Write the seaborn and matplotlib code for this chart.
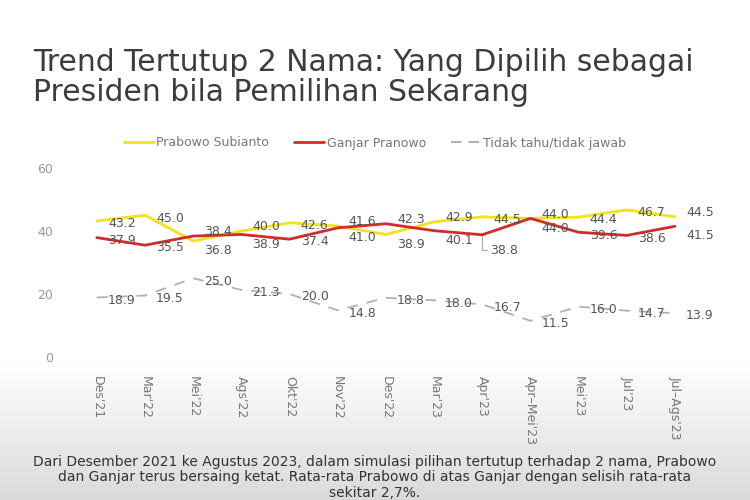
import matplotlib
matplotlib.use("Agg")
import matplotlib.pyplot as plt
import numpy as np
import pandas as pd
import seaborn as sns

periods = ["Des'21", "Mar'22", "Mei'22", "Ags'22", "Okt'22", "Nov'22", "Des'22",
           "Mar'23", "Apr'23", "Apr\u2013Mei'23", "Mei'23", "Jul'23", "Jul\u2013Ags'23"]
prabowo = [43.2, 45.0, 36.8, 40.0, 42.6, 41.6, 38.9, 42.9, 44.5, 44.0, 44.4, 46.7, 44.5]
ganjar = [37.9, 35.5, 38.4, 38.9, 37.4, 41.0, 42.3, 40.1, 38.8, 44.0, 39.6, 38.6, 41.5]
tidak_tahu = [18.9, 19.5, 25.0, 21.3, 20.0, 14.8, 18.8, 18.0, 16.7, 11.5, 16.0, 14.7, 13.9]

series_names = ["Prabowo Subianto", "Ganjar Pranowo", "Tidak tahu/tidak jawab"]
series_colors = ["#f3e11b", "#d32a2a", "#b0b0b0"]

sns.set_theme(style="white")
plt.rcParams["font.family"] = ["DejaVu Sans"]

df = pd.DataFrame({
    "x": list(range(len(periods))) * 3,
    "value": prabowo + ganjar + tidak_tahu,
    "series": [s for s in series_names for _ in periods],
})

fig = plt.figure(figsize=(7.5, 5), dpi=100)

# grey gradient band at the bottom of the slide
bg = fig.add_axes([0, 0, 1, 0.28], zorder=-10)
grad = np.linspace(0, 1, 100).reshape(-1, 1)
cmap = matplotlib.colors.LinearSegmentedColormap.from_list("g", ["#dadada", "#ffffff"])
bg.imshow(grad, aspect="auto", cmap=cmap, extent=[0, 1, 0, 1], origin="lower")
bg.axis("off")

ax = fig.add_axes([0.097, 0.286, 0.835, 0.378])
ax.patch.set_alpha(0)
sns.lineplot(data=df, x="x", y="value", hue="series", style="series",
             palette=dict(zip(series_names, series_colors)),
             dashes={series_names[0]: "", series_names[1]: "", series_names[2]: (6, 5)},
             linewidth=2, ax=ax, legend=False)
ax.lines[2].set_linewidth(1.3)

ax.set_xlim(-0.5, len(periods) - 0.5)
ax.set_ylim(0, 60)
ax.set_yticks([0, 20, 40, 60])
ax.set_xticks(range(len(periods)))
ax.set_xticklabels(periods, rotation=270, fontsize=9, color="#777777")
ax.tick_params(axis="x", pad=14, length=0)
ax.tick_params(axis="y", pad=14, length=0, labelsize=9, labelcolor="#999999")
ax.set_xlabel("")
ax.set_ylabel("")
sns.despine(ax=ax, left=True, bottom=True)

# data labels; close pairs get pushed apart a little
lab = dict(fontsize=9, color="#555555", va="center", ha="left")
for i in range(len(periods)):
    p, g = prabowo[i], ganjar[i]
    dp = dg = -2
    if abs(p - g) < 4:
        if p >= g:
            dp, dg = 3, -7
        else:
            dp, dg = -7, 3
    ax.annotate(f"{p:.1f}", (i, p), xytext=(8, dp), textcoords="offset points", **lab)
    if i == 8:
        ax.annotate(f"{g:.1f}", (i, g), xytext=(6, -11), textcoords="offset points",
                    arrowprops=dict(arrowstyle="-", color="#aaaaaa", lw=0.8,
                                    shrinkA=0, shrinkB=1,
                                    connectionstyle="angle,angleA=0,angleB=90,rad=0"),
                    **lab)
    else:
        ax.annotate(f"{g:.1f}", (i, g), xytext=(8, dg), textcoords="offset points", **lab)
    ax.annotate(f"{tidak_tahu[i]:.1f}", (i, tidak_tahu[i]), xytext=(8, -2),
                textcoords="offset points", **lab)

# legend
handles = [plt.Line2D([], [], color=series_colors[0], lw=2),
           plt.Line2D([], [], color=series_colors[1], lw=2),
           plt.Line2D([], [], color=series_colors[2], lw=1.5, ls=(0, (5, 3.5)))]
fig.legend(handles, series_names, loc="center", bbox_to_anchor=(0.5, 0.714), ncol=3,
           frameon=False, handlelength=2.4, handletextpad=0.2, columnspacing=2.0,
           prop={"size": 9}, labelcolor="#777777")

fig.text(0.044, 0.845, "Trend Tertutup 2 Nama: Yang Dipilih sebagai\nPresiden bila Pemilihan Sekarang",
         fontsize=21.5, color="#3c3c3c", ha="left", va="center", linespacing=1.05)

fig.text(0.5, 0.045,
         "Dari Desember 2021 ke Agustus 2023, dalam simulasi pilihan tertutup terhadap 2 nama, Prabowo\n"
         "dan Ganjar terus bersaing ketat. Rata-rata Prabowo di atas Ganjar dengan selisih rata-rata\n"
         "sekitar 2,7%.", fontsize=10, color="#333333", ha="center", va="center", linespacing=1.1)

fig.savefig("out.png", dpi=100)
